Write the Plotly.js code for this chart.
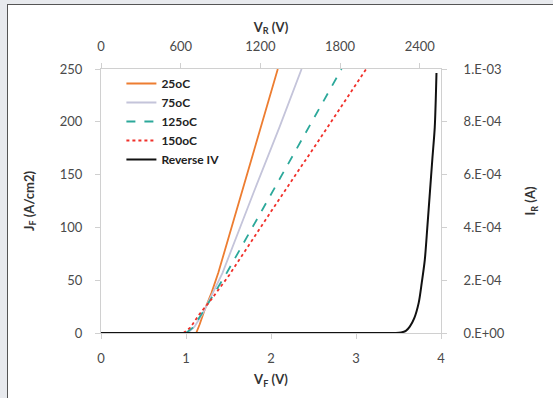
<!DOCTYPE html>
<html><head><meta charset="utf-8">
<script src="https://cdn.plot.ly/plotly-3.0.1.min.js"></script>
<style>
html,body{margin:0;padding:0;background:#e8eaee;}
#frame{position:absolute;left:7px;top:4px;width:560px;height:410px;background:#fff;border:1px solid #555;}
#chart{position:absolute;left:0;top:0;width:553px;height:398px;}
</style></head>
<body><div id="frame"></div><div id="chart"></div>
<script>
// Forward IV (V_F in V, J_F in A/cm2)
const vf25 = [1.12, 1.16, 1.22, 1.30, 1.38, 1.60, 1.85, 2.08];
const jf25 = [0, 8, 22, 38, 57, 118, 187, 250];
const vf75 = [1.02, 1.10, 1.20, 1.30, 1.43, 1.80, 2.10, 2.36];
const jf75 = [0, 6, 19, 35, 57, 134, 195, 250];
const vf125 = [1.00, 1.08, 1.20, 1.30, 1.48, 1.90, 2.40, 2.83];
const jf125 = [0, 5, 20, 33, 57, 117, 189, 250];
const vf150 = [0.97, 1.05, 1.15, 1.30, 1.51, 2.00, 2.60, 3.12];
const jf150 = [0, 5, 17, 32, 55, 115, 187, 250];
// Reverse IV (V_R in V, I_R in A)
const vr = [0, 500, 1000, 1500, 2000, 2220, 2260, 2295, 2325, 2358, 2392, 2415, 2438, 2457, 2476, 2495, 2513, 2526];
const ir = [0, 0, 0, 0, 0, 0, 2e-6, 8e-6, 2.4e-5, 5.5e-5, 1.14e-4, 1.9e-4, 2.77e-4, 4.0e-4, 5.3e-4, 6.6e-4, 7.8e-4, 9.85e-4];
// Tick labels
const y2Ticks = [0, 2e-4, 4e-4, 6e-4, 8e-4, 1e-3];
const y2Labels = ["0.E+00", "2.E-04", "4.E-04", "6.E-04", "8.E-04", "1.E-03"];
const x2Ticks = [0, 600, 1200, 1800, 2400];

const tickFont = {family: "Lato, 'Open Sans', sans-serif", size: 13, color: "#4a4a4a"};
const titleFont = {family: "Lato, 'Open Sans', sans-serif", size: 13, color: "#333", weight: "bold"};

const traces = [
  {x: vf25, y: jf25, name: "25oC", mode: "lines", line: {color: "#ED7D31", width: 1.8}, xaxis: "x", yaxis: "y"},
  {x: vf75, y: jf75, name: "75oC", mode: "lines", line: {color: "#C4C4DA", width: 1.8}, xaxis: "x", yaxis: "y"},
  {x: vf125, y: jf125, name: "125oC", mode: "lines", line: {color: "#2BA89A", width: 1.8, dash: "dash"}, xaxis: "x", yaxis: "y"},
  {x: vf150, y: jf150, name: "150oC", mode: "lines", line: {color: "#F0302A", width: 1.8, dash: "dot"}, xaxis: "x", yaxis: "y"},
  {x: vr, y: ir, name: "Reverse IV", mode: "lines", line: {color: "#111", width: 2, shape: "spline", smoothing: 0.8}, xaxis: "x2", yaxis: "y2"}
];

const axBase = {showgrid: false, zeroline: false, showline: true, linecolor: "#d0d0d0", linewidth: 1,
  ticks: "outside", ticklen: 5, tickcolor: "#d0d0d0", tickfont: tickFont};

const layout = {
  width: 553, height: 398,
  margin: {l: 101, r: 112, t: 69, b: 65},
  paper_bgcolor: "rgba(0,0,0,0)", plot_bgcolor: "rgba(0,0,0,0)",
  showlegend: true,
  legend: {x: 0.06, y: 1.0, xanchor: "left", yanchor: "top", bgcolor: "rgba(0,0,0,0)",
    font: {family: "Lato, 'Open Sans', sans-serif", size: 12, color: "#222", weight: "bold"}, tracegroupgap: 0},
  xaxis: Object.assign({}, axBase, {range: [0, 4], dtick: 1, tick0: 0, ticklabelstandoff: 8,
    title: {text: "V<sub>F</sub> (V)", font: titleFont, standoff: 10}}),
  yaxis: Object.assign({}, axBase, {range: [0, 250], dtick: 50, ticklabelstandoff: 10,
    title: {text: "J<sub>F</sub> (A/cm2)", font: titleFont, standoff: 22}}),
  xaxis2: Object.assign({}, axBase, {overlaying: "x", side: "top", range: [0, 2560],
    tickvals: x2Ticks, ticktext: x2Ticks.map(String), ticklabelstandoff: 7,
    title: {text: "V<sub>R</sub> (V)", font: titleFont, standoff: 2}}),
  yaxis2: Object.assign({}, axBase, {overlaying: "y", side: "right", range: [0, 1e-3],
    tickvals: y2Ticks, ticktext: y2Labels, ticklabelstandoff: 14,
    title: {text: "I<sub>R</sub> (A)", font: titleFont, standoff: 22}})
};

Plotly.newPlot("chart", traces, layout, {displayModeBar: false, staticPlot: true});
</script></body></html>
